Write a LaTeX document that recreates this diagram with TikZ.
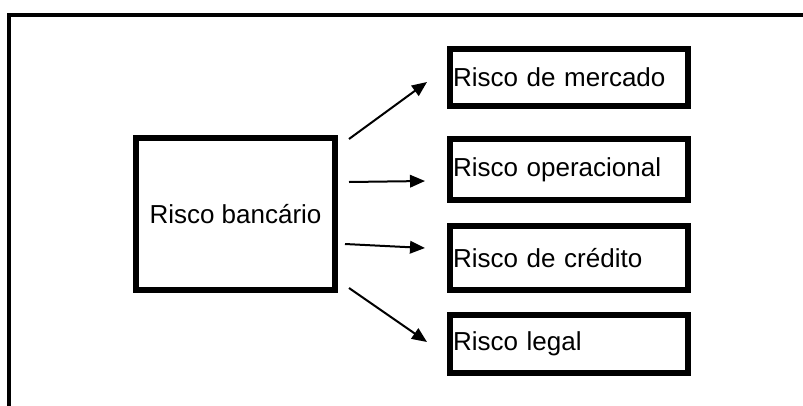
\documentclass[tikz,border=0pt]{standalone}
\usepackage{fontspec}
\setmainfont{Liberation Sans}
\usetikzlibrary{arrows.meta}
\begin{document}
\begin{tikzpicture}[x=1pt,y=1pt,
  box/.style={draw,line width=6pt,rectangle,inner sep=0pt,
    font=\fontsize{26}{31}\selectfont},
  riskbox/.style={box,minimum width=238pt,text width=232pt,align=left,inner xsep=3pt},
  link/.style={line width=2pt,-{Triangle[length=15pt,width=12.5pt]}}]
  \useasboundingbox (0,0) rectangle (803,-405);
  % outer frame: left and top edges only
  \draw[line width=3.5pt] (9,-410) -- (9,-15) -- (810,-15);
  % central box
  \node[box,minimum width=199pt,minimum height=152pt] (c) at (235.5,-214) {Risco banc\'ario};
  % risk categories
  \node[riskbox,minimum height=57pt] (m1) at (569,-77.5) {Risco de mercado};
  \node[riskbox,minimum height=61pt] (m2) at (569,-169.5) {Risco operacional};
  \node[riskbox,minimum height=64pt] (m3) at (569,-258) {Risco de cr\'edito};
  \node[riskbox,minimum height=58pt] (m4) at (569,-344) {Risco legal};
  % connectors
  \draw[link] ([shift={(11,-4)}]c.north east) -- ([shift={(-20,-4.5)}]m1.west);
  \draw[link] ([shift={(11,32)}]c.east) -- ([shift={(-22,-11.5)}]m2.west);
  \draw[link] ([shift={(7,-30)}]c.east) -- ([shift={(-22,10)}]m3.west);
  \draw[link] ([shift={(11,5)}]c.south east) -- ([shift={(-20,2)}]m4.west);
\end{tikzpicture}
\end{document}
